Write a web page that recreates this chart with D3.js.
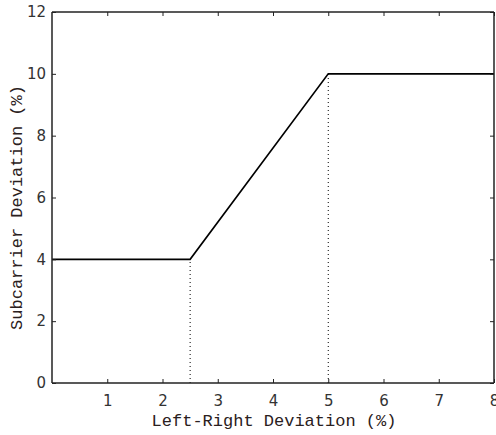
<!DOCTYPE html>
<html><head><meta charset="utf-8">
<script src="https://cdn.jsdelivr.net/npm/d3@7"></script>
<style>body{margin:0;background:#fff}</style>
</head><body>
<svg id="c" width="496" height="435"></svg>
<script>
const xTicks = [1,2,3,4,5,6,7,8];
const yTicks = [0,2,4,6,8,10,12];
const lrDev = [0, 2.5, 5, 8];
const subDev = [4, 4, 10, 10];
const breakX = [2.5, 5];
const breakY = [4, 10];

const svg = d3.select("#c");
const L=52, R=494, T=12, B=383;
const x = d3.scaleLinear().domain([0,8]).range([L,R]);
const y = d3.scaleLinear().domain([0,12]).range([B,T]);
const tickFont = "'DejaVu Sans', sans-serif";
const monoFont = "'Liberation Mono', 'DejaVu Sans Mono', monospace";

// dotted verticals
svg.selectAll("line.drop").data(breakX).enter().append("line")
  .attr("x1", d=>x(d)).attr("x2", d=>x(d))
  .attr("y1", y(0)).attr("y2", (d,i)=>y(breakY[i]))
  .attr("stroke","#000").attr("stroke-width",1).attr("stroke-dasharray","1,3");

// main line
svg.append("path")
  .datum(lrDev.map((v,i)=>[v,subDev[i]]))
  .attr("d", d3.line().x(d=>x(d[0])).y(d=>y(d[1])))
  .attr("fill","none").attr("stroke","#000").attr("stroke-width",1.6);

// axes
const tk = 4;
const gB = svg.append("g").attr("transform",`translate(0,${B})`)
  .call(d3.axisBottom(x).tickValues(xTicks).tickSize(-tk).tickPadding(12));
const gT = svg.append("g").attr("transform",`translate(0,${T})`)
  .call(d3.axisTop(x).tickValues(xTicks).tickSize(-tk).tickFormat(""));
const gL = svg.append("g").attr("transform",`translate(${L},0)`)
  .call(d3.axisLeft(y).tickValues(yTicks).tickSize(-tk).tickPadding(6));
const gR = svg.append("g").attr("transform",`translate(${R},0)`)
  .call(d3.axisRight(y).tickValues(yTicks).tickSize(-tk).tickFormat(""));
[gB,gT,gL,gR].forEach(g=>{
  g.select(".domain").attr("stroke","#222").attr("stroke-width",1.5);
  g.selectAll(".tick line").attr("stroke","#222");
  g.selectAll("text").attr("font-family",tickFont).attr("font-size",15).attr("fill","#333");
});
gB.select(".domain").attr("d",`M${L},0H${R}`);
gT.select(".domain").attr("d",`M${L},0H${R}`);
gL.select(".domain").attr("d",`M0,${T}V${B}`);
gR.select(".domain").attr("d",`M0,${T}V${B}`);

svg.append("text").attr("x",274).attr("y",426).attr("text-anchor","middle")
  .attr("font-family",monoFont).attr("font-size",17).attr("fill","#2a2020")
  .text("Left-Right Deviation (%)");
svg.append("text").attr("transform",`translate(22,${(T+B)/2+10}) rotate(-90)`)
  .attr("text-anchor","middle")
  .attr("font-family",monoFont).attr("font-size",17).attr("fill","#2a2020")
  .text("Subcarrier Deviation (%)");
</script>
</body></html>
